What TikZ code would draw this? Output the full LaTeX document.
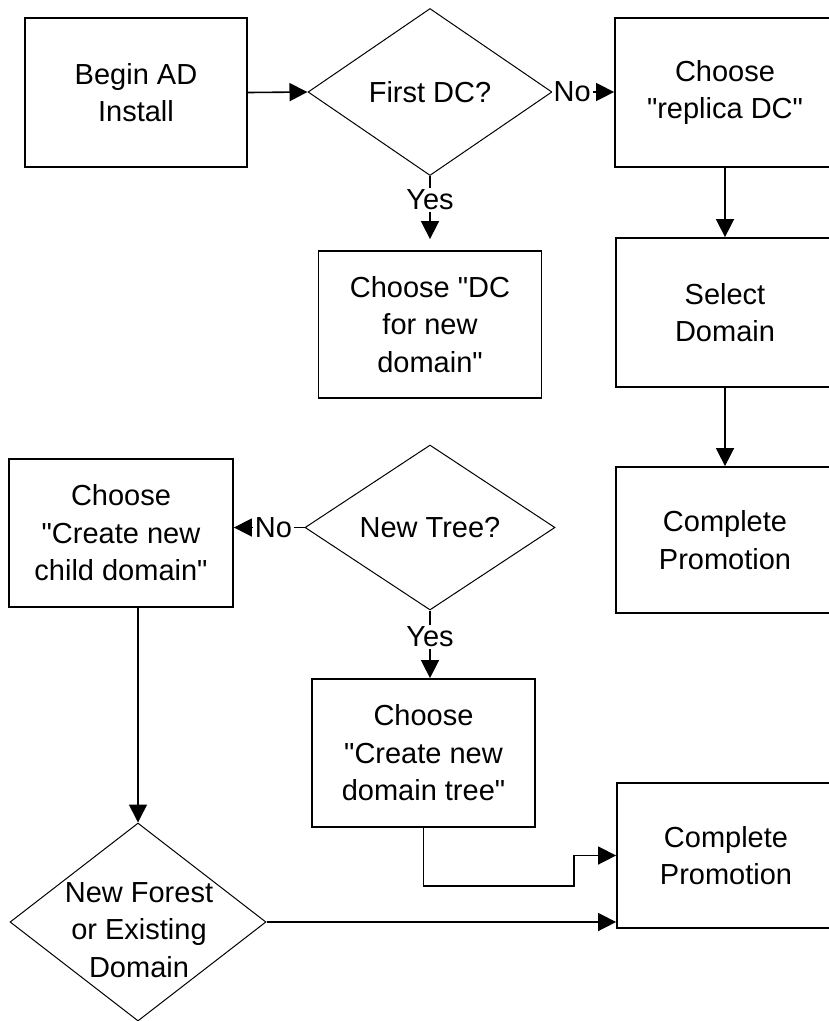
\documentclass[tikz,border=0pt]{standalone}
\usepackage{fontspec}
\setmainfont{Liberation Sans}[Ligatures=TeXOff]
\usetikzlibrary{shapes.geometric,arrows.meta}
\begin{document}
\begin{tikzpicture}[x=1pt,y=-1pt,
  txt/.style={font=\fontsize{29}{37.5}\selectfont, align=center},
  stepbox/.style={txt, draw, rectangle, line width=1.8pt, inner sep=0pt},
  decision/.style={txt, draw, diamond, aspect=1.5, line width=1pt, inner sep=0pt},
  flow/.style={line width=1.6pt, -{Triangle[length=18pt,width=18pt]}},
  lbl/.style={txt, fill=white, inner sep=2pt}]
\useasboundingbox (0,0) rectangle (829,1021);

% top row
\node[stepbox, minimum width=222pt, minimum height=149pt] (begin) at (136,92.5) {Begin AD\\Install};
\node[decision, minimum width=244pt, minimum height=167pt] (firstdc) at (430,92) {First DC?};
\node[stepbox, minimum width=220pt, minimum height=149pt] (replica) at (725,92.5) {Choose\\"replica DC"};

% first-DC branch and replica branch
\node[stepbox, minimum width=223pt, minimum height=147pt] (dcnew) at (430,324.5) {Choose "DC\\for new\\domain"};
\node[stepbox, minimum width=218pt, minimum height=149pt] (select) at (725,312.5) {Select\\Domain};
\node[stepbox, minimum width=218pt, minimum height=146pt] (done1) at (725,540) {Complete\\Promotion};

% new tree decision
\node[stepbox, minimum width=224pt, minimum height=148pt] (child) at (121,533) {Choose\\"Create new\\child domain"};
\node[decision, minimum width=250pt, minimum height=165pt] (newtree) at (430,527.5) {New Tree?};
\node[stepbox, minimum width=223pt, minimum height=148pt] (tree) at (423.5,753) {Choose\\"Create new\\domain tree"};
\node[stepbox, minimum width=218pt, minimum height=145pt] (done2) at (726,855.5) {Complete\\Promotion};

% forest decision
\node[decision, minimum width=256pt, minimum height=198pt] (forest) at (138,922) {};
\node[txt, inner sep=0pt] (forestlabel) at (139,930) {New Forest\\or Existing\\Domain};

\coordinate (jog) at (574,886);

% connectors
\draw[flow] (begin.east) -- (firstdc.west);
\draw[flow] (firstdc.east) -- node[lbl, pos=0.32] (no1) {No} (firstdc.east -| replica.west);
\draw[flow, shorten >=11pt] (firstdc.south) -- node[lbl, pos=0.32] (yes1) {Yes} (dcnew.north);
\draw[flow] (replica.south) -- (select.north);
\draw[flow] (select.south) -- (done1.north);
\draw[flow] (newtree.west) -- node[lbl, pos=0.44] (no2) {No} (newtree.west -| child.east);
\draw[flow] (newtree.south) -- node[lbl, pos=0.39] (yes2) {Yes} (newtree.south |- tree.north);
\draw[flow] (child.south -| forest.north) -- (forest.north);
\draw[flow] (tree.south) |- (jog) |- (done2.west);
\draw[flow] (forest.east) -- (forest.east -| done2.west);
\end{tikzpicture}
\end{document}
